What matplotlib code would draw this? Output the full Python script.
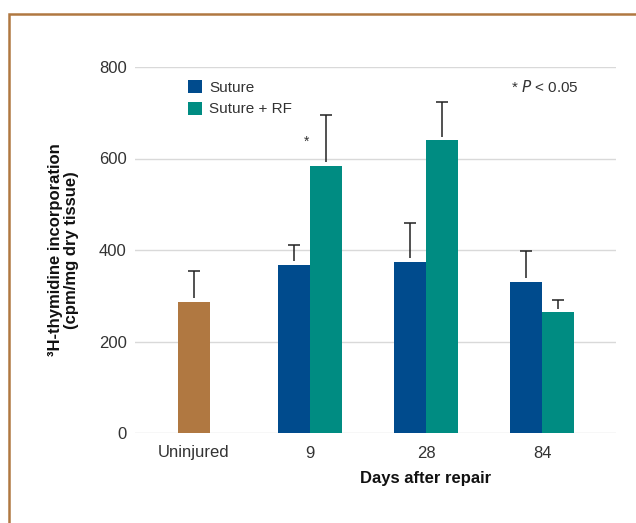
import matplotlib.pyplot as plt
import numpy as np
from matplotlib.patches import Rectangle

plt.rcParams['font.family'] = ['Liberation Sans', 'DejaVu Sans']

# data
groups = ['Uninjured', '9', '28', '84']
uninjured = 286
uninjured_err = 68
suture = [367, 374, 330]
suture_err = [44, 85, 68]
suture_rf = [584, 640, 264]
suture_rf_err = [111, 84, 26]
series_names = ['Suture', 'Suture + RF']

brown = '#B07841'
navy = '#004B8D'
teal = '#008C82'

fig = plt.figure(figsize=(6.36, 5.23), dpi=100)
ax = fig.add_axes([135 / 636, 90 / 523, 481 / 636, 366 / 523])

# frame around the panel (runs off the right and bottom edge)
fig.patches.append(Rectangle((9 / 636, -0.1), 1.2, (523 - 14) / 523 + 0.1,
                             transform=fig.transFigure, fill=False,
                             edgecolor=brown, linewidth=1.8))

x = np.arange(len(groups))
w = 0.276
gap = 8      # small gap between bar top and error line
cap = 0.052  # half width of the error cap


def up_err(xs, vals, errs):
    xs = np.atleast_1d(xs)
    vals = np.atleast_1d(vals)
    tops = vals + np.atleast_1d(errs)
    ax.vlines(xs, vals + gap, tops, color='#222222', linewidth=1.1, zorder=3, clip_on=False)
    ax.hlines(tops, xs - cap, xs + cap, color='#222222', linewidth=1.1, zorder=3, clip_on=False)


ax.bar(x[0], uninjured, w, color=brown, zorder=2)
up_err(x[0], uninjured, uninjured_err)

b1 = ax.bar(x[1:] - w / 2, suture, w, color=navy, zorder=2, label=series_names[0])
b2 = ax.bar(x[1:] + w / 2, suture_rf, w, color=teal, zorder=2, label=series_names[1])
up_err(x[1:] - w / 2, suture, suture_err)
up_err(x[1:] + w / 2, suture_rf, suture_rf_err)

# significance star next to day 9 RF bar
ax.annotate('*', (x[1] + w / 2, suture_rf[0]), xytext=(-14, 12), textcoords='offset points',
            ha='center', va='bottom', fontsize=10, color='#333333')

ax.set_xlim(-0.509, 3.638)
ax.set_ylim(0, 800)
ax.set_yticks([0, 200, 400, 600, 800])
ax.set_xticks(x)
ax.set_xticklabels(groups)
ax.tick_params(length=0, labelsize=12, labelcolor='#333333')
ax.tick_params(axis='y', pad=6)
ax.tick_params(axis='x', pad=9)
ax.yaxis.grid(True, color='#d9d9d9', linewidth=1)
ax.set_axisbelow(True)
for s in ax.spines.values():
    s.set_visible(False)

ax.set_ylabel('³H-thymidine incorporation\n(cpm/mg dry tissue)', fontsize=12,
              fontweight='bold', color='#111111', labelpad=14, linespacing=1.1)
ax.text(x[1:].mean(), -0.105, 'Days after repair', transform=ax.get_xaxis_transform(),
        ha='center', va='top', fontsize=12, fontweight='bold', color='#111111')

ax.text(0.923, 0.945, '* $\\it{P}$ < 0.05', transform=ax.transAxes, ha='right', va='center',
        fontsize=11, color='#333333')

ax.legend(handles=[b1, b2], loc='upper left', bbox_to_anchor=(0.11, 0.965), frameon=False,
          fontsize=11, handlelength=0.95, handleheight=0.95, handletextpad=0.45,
          borderpad=0, borderaxespad=0, labelspacing=0.45, labelcolor='#333333')

fig.savefig('out.png', dpi=100)
